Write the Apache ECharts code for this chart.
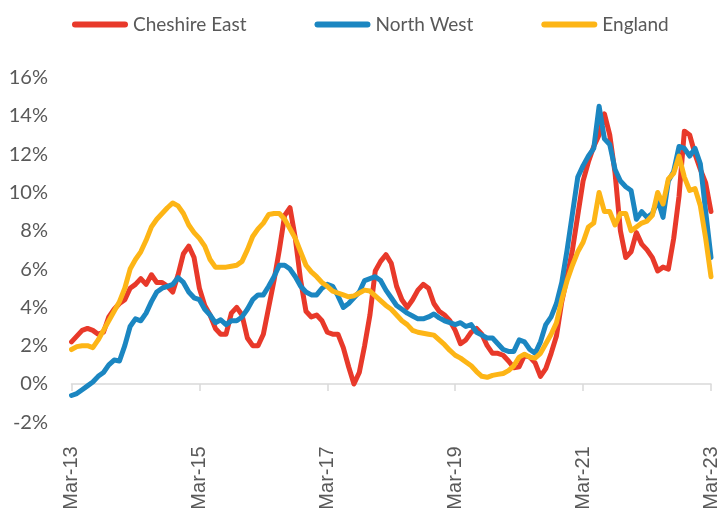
<!DOCTYPE html>
<html>
<head>
<meta charset="utf-8">
<script src="https://cdn.jsdelivr.net/npm/echarts@6/dist/echarts.min.js"></script>
<style>
html,body{margin:0;padding:0;background:#fff;}
#chart{width:721px;height:513px;}
</style>
</head>
<body>
<div id="chart"></div>
<script>
// Categories: monthly, Mar-13 .. Mar-23
var monthNames = ['Jan','Feb','Mar','Apr','May','Jun','Jul','Aug','Sep','Oct','Nov','Dec'];
var months = [];
for (var k = 0; k < 121; k++) {
  var m = (2 + k) % 12;
  var y = 13 + Math.floor((2 + k) / 12);
  months.push(monthNames[m] + '-' + (y < 10 ? '0' + y : y));
}

var seriesNames = ['Cheshire East', 'North West', 'England'];

var cheshireEast = [
  2.2, 2.5, 2.8, 2.9, 2.8, 2.6, 2.7, 3.5, 3.9, 4.2,
  4.4, 5.0, 5.2, 5.5, 5.2, 5.7, 5.3, 5.3, 5.1, 4.8,
  5.7, 6.8, 7.2, 6.6, 5.0, 4.1, 3.6, 2.9, 2.6, 2.6,
  3.7, 4.0, 3.6, 2.4, 2.0, 2.0, 2.6, 4.0, 5.4, 7.0,
  8.8, 9.2, 7.6, 5.4, 3.8, 3.5, 3.6, 3.3, 2.7, 2.6,
  2.6, 1.9, 0.9, 0.0, 0.6, 2.0, 3.6, 5.9, 6.4, 6.75,
  6.3, 5.1, 4.4, 4.0, 4.4, 4.9, 5.2, 5.0, 4.2, 3.8,
  3.6, 3.3, 2.8, 2.1, 2.3, 2.7, 2.9, 2.6, 2.0, 1.6,
  1.6, 1.5, 1.2, 0.85, 0.9, 1.5, 1.4, 1.1, 0.4, 0.8,
  1.6, 2.5, 4.3, 5.6, 7.0, 8.8, 10.6, 11.6, 12.4, 13.0,
  14.1, 13.0, 11.0, 8.0, 6.6, 6.9, 7.9, 7.3, 7.0, 6.6,
  5.9, 6.1, 6.0, 7.6, 9.8, 13.2, 13.0, 12.0, 11.2, 10.5,
  9.0
];

var northWest = [
  -0.6, -0.5, -0.3, -0.1, 0.1, 0.4, 0.6, 1.0, 1.25, 1.2,
  2.0, 3.0, 3.4, 3.3, 3.7, 4.3, 4.8, 5.0, 5.1, 5.2,
  5.55, 5.3, 4.8, 4.5, 4.4, 3.9, 3.6, 3.2, 3.35, 3.1,
  3.3, 3.3, 3.5, 3.9, 4.4, 4.65, 4.65, 5.1, 5.6, 6.2,
  6.2, 6.0, 5.6, 5.1, 4.8, 4.65, 4.65, 5.0, 5.2, 5.1,
  4.6, 4.0, 4.2, 4.5, 4.8, 5.4, 5.5, 5.6, 5.4, 4.9,
  4.5, 4.1, 3.9, 3.7, 3.55, 3.4, 3.4, 3.5, 3.65, 3.45,
  3.3, 3.2, 3.1, 3.2, 3.0, 3.1, 2.7, 2.55, 2.4, 2.4,
  2.1, 1.8, 1.7, 1.7, 2.3, 2.2, 1.8, 1.6, 2.2, 3.1,
  3.5, 4.2, 5.3, 7.0, 8.9, 10.8, 11.4, 11.9, 12.3, 14.5,
  12.8, 12.5, 11.2, 10.6, 10.3, 10.1, 8.6, 9.0, 8.7, 8.9,
  9.6, 8.7, 10.6, 11.1, 12.4, 12.3, 11.9, 12.3, 11.5, 9.0,
  6.6
];

var england = [
  1.8, 1.95, 2.0, 2.0, 1.9, 2.3, 2.8, 3.3, 3.8, 4.3,
  5.0, 6.0, 6.5, 6.9, 7.5, 8.2, 8.6, 8.9, 9.2, 9.45,
  9.3, 8.9, 8.3, 7.9, 7.6, 7.2, 6.5, 6.1, 6.1, 6.1,
  6.15, 6.2, 6.4, 7.0, 7.7, 8.1, 8.4, 8.85, 8.9, 8.9,
  8.6, 8.1, 7.6, 6.9, 6.2, 5.85, 5.6, 5.3, 5.1, 4.85,
  4.75, 4.65, 4.55, 4.6, 4.75, 4.9, 4.85, 4.6, 4.35, 4.1,
  3.9, 3.6, 3.3, 3.1, 2.8, 2.7, 2.65, 2.6, 2.55, 2.3,
  2.05, 1.75, 1.5, 1.35, 1.15, 0.95, 0.65, 0.4, 0.35, 0.45,
  0.5, 0.55, 0.7, 0.95, 1.4, 1.55, 1.4, 1.35, 1.6, 2.1,
  2.6, 3.2, 4.4, 5.4, 6.2, 6.9, 7.4, 8.2, 8.4, 10.0,
  9.0, 9.0, 8.3, 8.9, 8.9, 8.0, 8.2, 8.4, 8.5, 8.8,
  10.0, 9.4, 10.7, 11.0, 11.9, 10.8, 10.1, 10.2, 9.3, 7.6,
  5.6
];

var colors = ['#E8392A', '#1B86C1', '#FDB516'];
var capsule = 'path://M3,0 L53,0 A3,3 0 0 1 53,6 L3,6 A3,3 0 0 1 3,0 Z';

var chart = echarts.init(document.getElementById('chart'), null, {renderer: 'canvas'});

function lineSeries(name, data, color) {
  return {
    name: name,
    type: 'line',
    xAxisIndex: 0,
    yAxisIndex: 0,
    data: data,
    showSymbol: false,
    symbol: 'none',
    smooth: false,
    color: color,
    lineStyle: { width: 5, color: color, cap: 'round', join: 'round' },
    emphasis: { disabled: true }
  };
}

chart.setOption({
  animation: false,
  backgroundColor: '#ffffff',
  color: colors,
  legend: {
    data: seriesNames,
    left: 67,
    top: 10,
    icon: capsule,
    itemWidth: 56,
    itemHeight: 6,
    itemGap: 68,
    textStyle: { fontFamily: 'Lato', fontSize: 19, color: '#595959' }
  },
  grid: { left: 71.5, right: 7.5, top: 77.5, bottom: 90.7, containLabel: false },
  xAxis: [
    {
      type: 'category',
      data: months,
      boundaryGap: false,
      axisLine: { show: true, onZero: true, lineStyle: { color: '#d9d9d9', width: 1.5 } },
      axisTick: { show: true, interval: 23, length: 7, lineStyle: { color: '#d9d9d9', width: 1.5 } },
      axisLabel: { show: false },
      splitLine: { show: false }
    },
    {
      type: 'category',
      data: months,
      boundaryGap: false,
      position: 'bottom',
      axisLine: { show: false, onZero: false },
      axisTick: { show: false },
      splitLine: { show: false },
      axisLabel: {
        interval: 23,
        rotate: 90,
        margin: 24,
        fontFamily: 'Liberation Sans',
        fontSize: 20,
        color: '#595959'
      }
    }
  ],
  yAxis: {
    type: 'value',
    min: -2,
    max: 16,
    interval: 2,
    axisLine: { show: false },
    axisTick: { show: false },
    splitLine: { show: false },
    axisLabel: {
      formatter: '{value}%',
      margin: 23.5,
      fontFamily: 'Lato',
      fontSize: 20,
      color: '#595959'
    }
  },
  series: [
    lineSeries(seriesNames[0], cheshireEast, colors[0]),
    lineSeries(seriesNames[1], northWest, colors[1]),
    lineSeries(seriesNames[2], england, colors[2])
  ]
});
</script>
</body>
</html>
